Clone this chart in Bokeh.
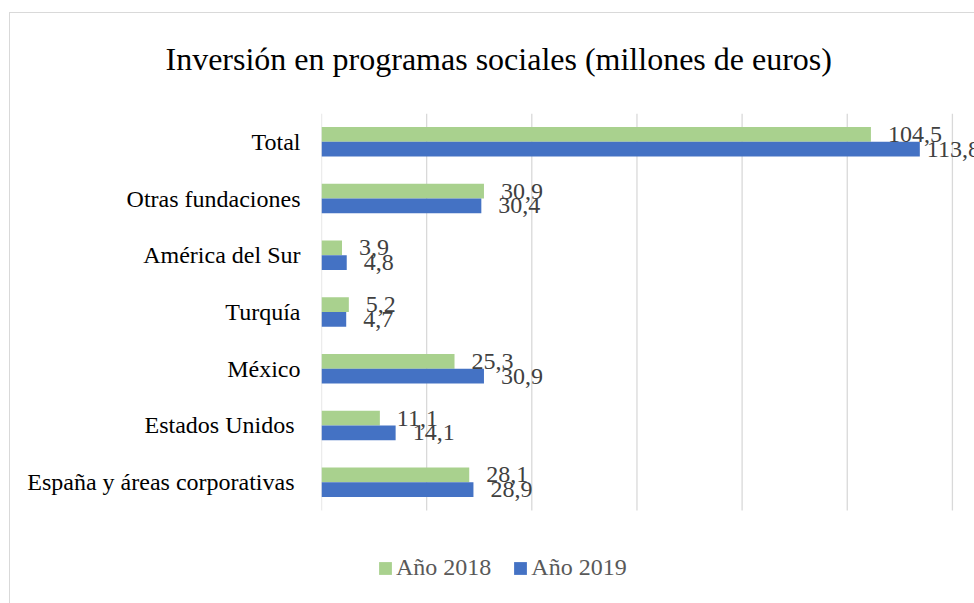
from bokeh.plotting import figure
from bokeh.models import (ColumnDataSource, Range1d, Legend, LegendItem,
                          FixedTicker, Title)
from bokeh.core.properties import value
from bokeh.embed import file_html
from bokeh.resources import INLINE

# ---- data ----
categories = ["España y áreas corporativas ", "Estados Unidos ", "México", "Turquía",
              "América del Sur", "Otras fundaciones", "Total"]
values_2018 = [28.1, 11.1, 25.3, 5.2, 3.9, 30.9, 104.5]
values_2019 = [28.9, 14.1, 30.9, 4.7, 4.8, 30.4, 113.8]
series_names = ["Año 2018", "Año 2019"]
title_text = "Inversión en programas sociales (millones de euros)"
x_tick_step = 20
x_max_tick = 120


def fmt(v):
    return f"{v:.1f}".replace(".", ",")


n = len(categories)
pos = list(range(n))
DODGE = 0.13
LABEL_GAP = 17
src = ColumnDataSource(dict(
    cat=categories,
    y18=[i + DODGE for i in pos],
    y19=[i - DODGE for i in pos],
    v18=values_2018,
    v19=values_2019,
    l18=[fmt(v) for v in values_2018],
    l19=[fmt(v) for v in values_2019],
    o18=[LABEL_GAP for _ in values_2018],
    # the largest label is pulled closer to its bar, as in the original
    o19=[7 if v == max(values_2019) else LABEL_GAP for v in values_2019],
))
grid_x = list(range(0, x_max_tick + 1, x_tick_step))
grid_src = ColumnDataSource(dict(x=grid_x, y0=[-0.5] * len(grid_x),
                                 y1=[n - 0.5] * len(grid_x)))

FONT = "Liberation Serif"
GREEN = "#a9d18e"
BLUE = "#4472c4"
LINE = "linear-gradient(#d9d9d9,#d9d9d9)"

FRAME_H = 490            # frame reaches the bottom of the page (legend sits inside it)
PX_PER_CAT = 397 / n     # plotted band height per category
y_start = -0.5 - (FRAME_H - 397) / PX_PER_CAT

p = figure(frame_width=653, frame_height=FRAME_H,
           y_range=Range1d(y_start, n - 0.5), x_range=Range1d(0, 124.2),
           output_backend="svg", toolbar_location=None,
           min_border_left=318, min_border_right=0, min_border_top=107,
           min_border_bottom=0, margin=(6, 0, 0, 3),
           styles={"background": f"{LINE} 6px 6px / 100% 1px no-repeat, "
                                 f"{LINE} 6px 6px / 1px 100% no-repeat"})
p.outline_line_color = None
p.background_fill_color = "white"
p.border_fill_alpha = 0

# vertical gridlines (only over the bar band)
p.segment(x0="x", y0="y0", x1="x", y1="y1", source=grid_src,
          line_color="#d9d9d9", line_width=1.3)

r18 = p.hbar(y="y18", right="v18", left=0, height=0.26,
             fill_color=GREEN, line_color=None, source=src)
r19 = p.hbar(y="y19", right="v19", left=0, height=0.26,
             fill_color=BLUE, line_color=None, source=src)

for xcol, ycol, col, ocol in (("v18", "y18", "l18", "o18"), ("v19", "y19", "l19", "o19")):
    p.text(x=xcol, y=ycol, text=col, x_offset=ocol, text_baseline="middle",
           text_align="left", text_font=value(FONT), text_font_size="24px",
           text_color="#404040", source=src)

# axes
p.xaxis.visible = False
p.grid.visible = False

p.yaxis.ticker = FixedTicker(ticks=pos)
p.yaxis.major_label_overrides = {i: c for i, c in zip(pos, categories)}
p.yaxis.axis_line_color = None
p.yaxis.major_tick_line_color = None
p.yaxis.minor_tick_line_color = None
p.yaxis.major_tick_out = 0
p.yaxis.major_tick_in = 0
p.yaxis.major_label_standoff = 21
p.yaxis.major_label_text_font = FONT
p.yaxis.major_label_text_font_size = "24px"
p.yaxis.major_label_text_color = "#000000"

# title
p.title = Title(text=title_text, align="left", offset=-156, vertical_align="top",
                standoff=69, text_line_height=0.7, text_font=FONT,
                text_font_size="32px", text_font_style="normal", text_color="#000000")

legend = Legend(items=[LegendItem(label=series_names[0], renderers=[r18]),
                       LegendItem(label=series_names[1], renderers=[r19])],
                orientation="horizontal", location=(56, 22),
                label_text_font=FONT, label_text_font_size="24px",
                label_text_color="#595959", glyph_width=16, glyph_height=16,
                label_standoff=3, spacing=21, padding=0, margin=0,
                border_line_color=None, background_fill_alpha=0)
p.add_layout(legend, "center")

open("out.html", "w").write(file_html(p, INLINE))
